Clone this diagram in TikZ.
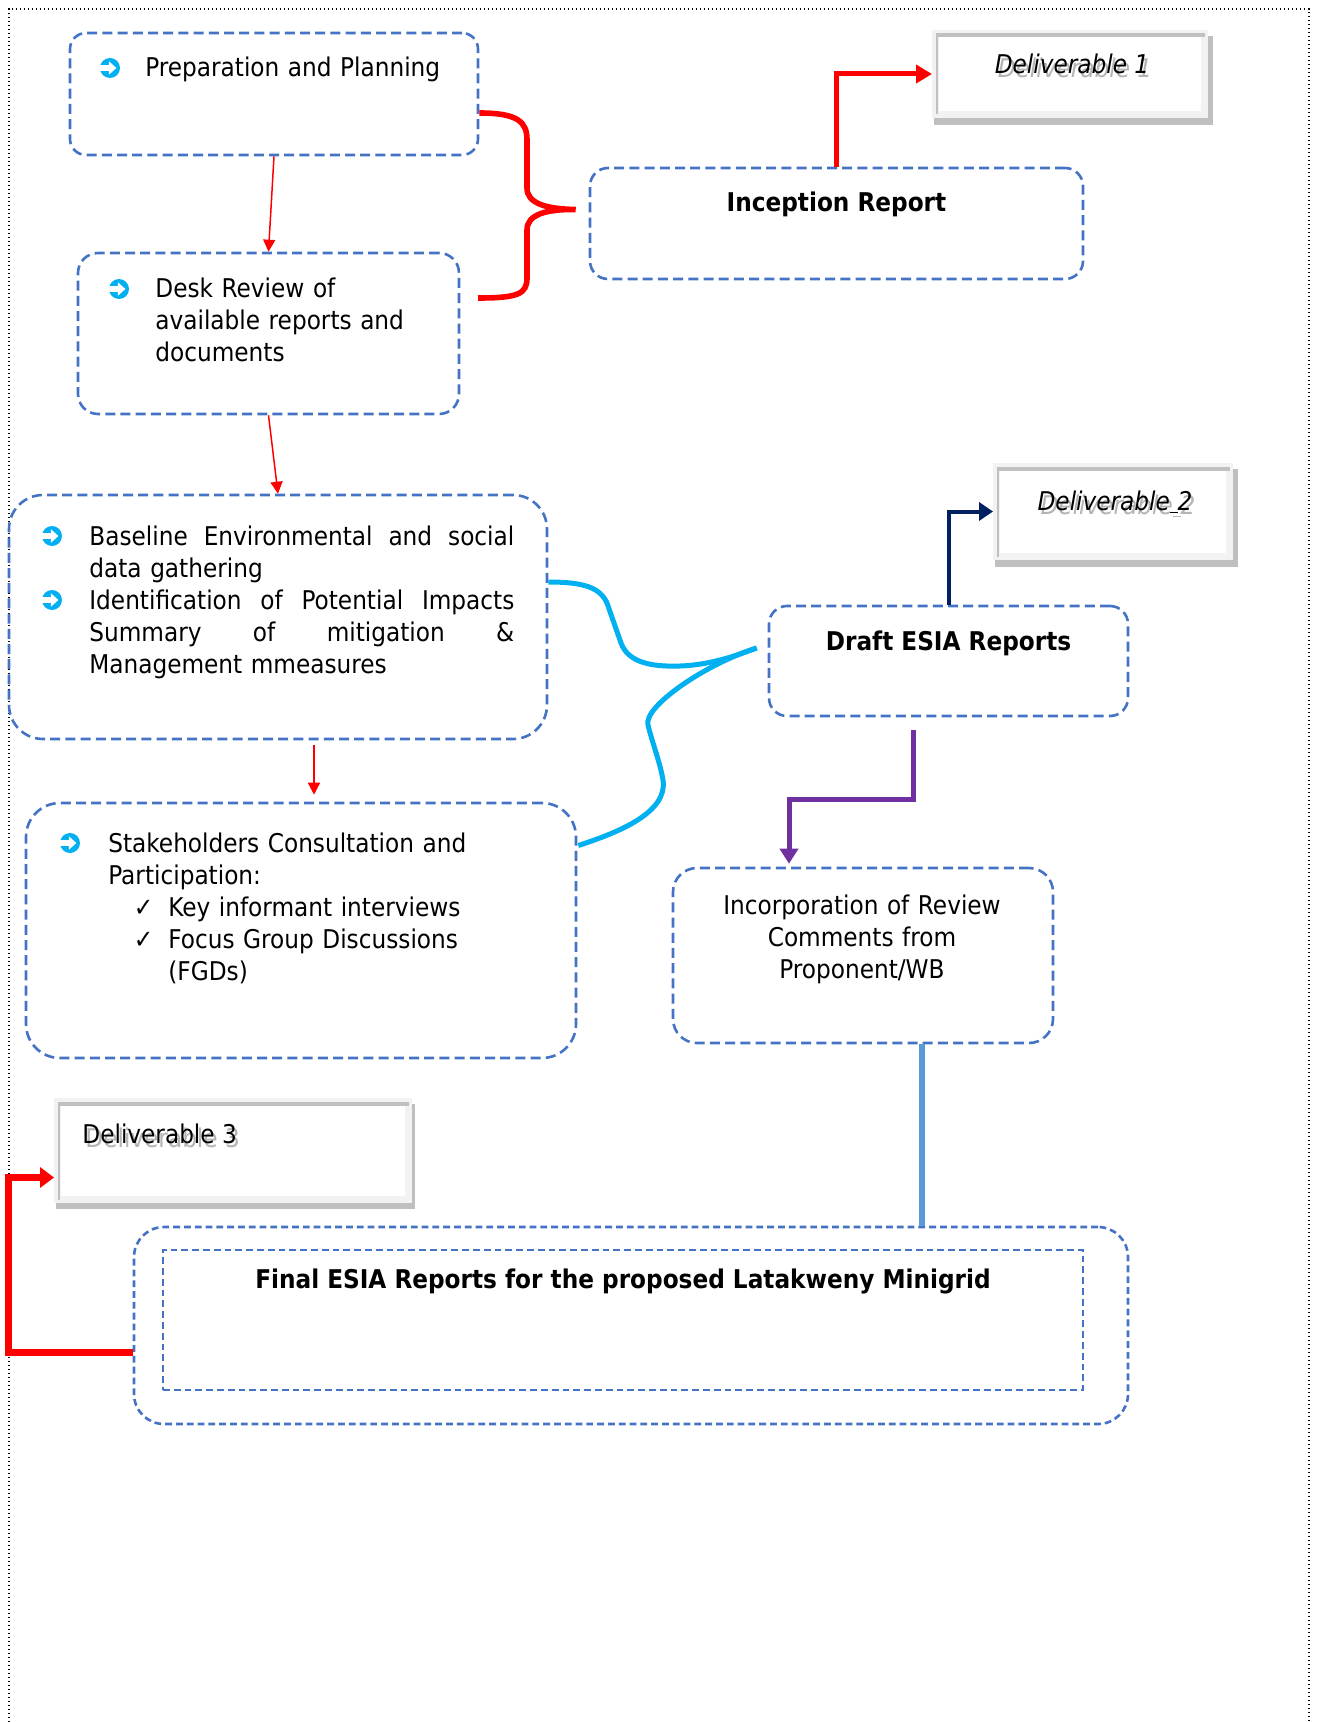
\documentclass[tikz,border=0pt]{standalone}
\usepackage{fontspec}
\setmainfont{DejaVu Sans Condensed}
\usetikzlibrary{arrows.meta,calc,fit}
\definecolor{boxblue}{HTML}{4472C4}
\definecolor{bulcyan}{HTML}{00B0F0}
\definecolor{navyc}{HTML}{002060}
\definecolor{purplec}{HTML}{7030A0}
\definecolor{lightblue}{HTML}{5B9BD5}
\definecolor{delivborder}{HTML}{F2F2F2}
\definecolor{delivshadow}{HTML}{BFBFBF}
\definecolor{delivinner}{HTML}{C0C0C0}
\definecolor{textshadow}{HTML}{B4B4B4}
\tikzset{
  frame/.style={draw=black, line width=0.7pt, dash pattern=on 0.7pt off 1.3pt},
  dashedbox/.style={draw=boxblue, line width=1.3pt, dash pattern=on 5pt off 2.6pt, rounded corners=#1, inner sep=0pt},
  dashedbox/.default=8pt,
  finedash/.style={dash pattern=on 3.4pt off 2pt},
  deliv/.style={draw=delivborder, fill=white, line width=3.5pt, inner sep=0pt},
  dtext/.style={inner sep=0pt, anchor=base},
  lbl/.style={inner sep=0pt, anchor=base west, align=left, text width=#1},
  thinred/.style={draw=red, line width=0.75pt, -{Triangle[length=6pt,width=6pt]}},
  redbrace/.style={draw=red, line width=2.8pt},
  redarrow/.style={draw=red, line width=2.5pt, -{Triangle[length=8pt,width=9pt]}},
  redthick/.style={draw=red, line width=3.5pt, -{Triangle[length=7pt,width=10pt]}},
  navyarrow/.style={draw=navyc, line width=2pt, -{Triangle[length=7pt,width=9pt]}},
  purplearrow/.style={draw=purplec, line width=2.5pt, -{Triangle[length=7.5pt,width=9pt]}},
  blueline/.style={draw=lightblue, line width=3pt},
  cyanline/.style={draw=bulcyan, line width=2.5pt},
  bullet/.pic={
    \fill[bulcyan] (0,0) circle (5pt);
    \fill[white] (-5.5pt,-1.5pt) rectangle (0.2pt,1.5pt);
    \fill[white] (-0.6pt,-3.4pt) -- (3.2pt,0pt) -- (-0.6pt,3.4pt) -- cycle;
  }
}
\begin{document}
\begin{tikzpicture}[x=0.5pt,y=-0.5pt,
  every node/.style={font=\fontsize{12.9}{16}\selectfont}]
\useasboundingbox (0,0) rectangle (1318,1722);
\fill[white] (0,0) rectangle (1318,1722);
\draw[frame] (9,1722) -- (9,9) -- (1309,9) -- (1309,1722);

% dashed boxes
\node[dashedbox=8pt, fit={(70,33) (478,155)}] (b1) {};
\node[dashedbox=10pt, fit={(78,253) (459,414)}] (b2) {};
\node[dashedbox=17pt, fit={(9,495) (547,739)}] (b3) {};
\node[dashedbox=17pt, fit={(26,803) (576,1058)}] (b4) {};
\node[dashedbox=9pt, fit={(590,168) (1083,279)}] (ir) {};
\node[dashedbox=9pt, fit={(769,606) (1128,716)}] (dr) {};
\node[dashedbox=12pt, fit={(673,868) (1053,1043)}] (rev) {};
\node[dashedbox=15pt, finedash, fit={(134,1227) (1128,1424)}] (fo) {};
\node[draw=boxblue, line width=1.3pt, finedash, inner sep=0pt, fit={(163,1250) (1083,1390)}] (fi) {};

% deliverable boxes
\fill[delivshadow] (934,36) rectangle (1213,125);
\node[deliv, fit={(935.5,33.5) (1204.5,114.5)}] (d1) {};
\draw[delivinner, line width=2pt] ($(d1.north west)+(3.5,5.5)$) -- ($(d1.north east)+(-3.5,5.5)$);
\draw[delivinner, line width=1pt] ($(d1.north west)+(4.5,3.5)$) -- ($(d1.south west)+(4.5,-3.5)$);

\fill[delivshadow] (995,469) rectangle (1238,567);
\node[deliv, fit={(996.5,466.5) (1229.5,556.5)}] (d2) {};
\draw[delivinner, line width=2pt] ($(d2.north west)+(3.5,5.5)$) -- ($(d2.north east)+(-3.5,5.5)$);
\draw[delivinner, line width=1pt] ($(d2.north west)+(4.5,3.5)$) -- ($(d2.south west)+(4.5,-3.5)$);

\fill[delivshadow] (56,1104) rectangle (415,1209);
\node[deliv, fit={(57.5,1101.5) (408.5,1199.5)}] (d3) {};
\draw[delivinner, line width=2pt] ($(d3.north west)+(3.5,5.5)$) -- ($(d3.north east)+(-3.5,5.5)$);
\draw[delivinner, line width=1pt] ($(d3.north west)+(4.5,3.5)$) -- ($(d3.south west)+(4.5,-3.5)$);

% deliverable texts (with shadow)
\node[dtext, text=textshadow] (d1s) at (1075,78) {\itshape Deliverable 1};
\node[dtext] (d1t) at (1072,74) {\itshape Deliverable 1};
\node[dtext, text=textshadow] (d2s) at (1118,514) {\itshape Deliverable\underline{\hspace{0.3em}}2};
\node[dtext] (d2t) at (1115,510) {\itshape Deliverable\underline{\hspace{0.3em}}2};
\node[dtext, anchor=base west, text=textshadow] (d3s) at (85,1147) {Deliverable 3};
\node[dtext, anchor=base west] (d3t) at (82,1143) {Deliverable 3};

% bullets
\pic at (110,68) {bullet};
\pic at (119,289) {bullet};
\pic at (52,536) {bullet};
\pic at (52,600) {bullet};
\pic at (70,843) {bullet};

% texts
\node[lbl=300pt] (t1) at (145,77) {Preparation and Planning};
\node[lbl=200pt] (t2) at (155,298) {Desk Review of\\available reports and\\documents};
\node[lbl=212.5pt] (t3) at (89,545) {\makebox[212.5pt]{Baseline\hfill Environmental\hfill and\hfill social}\\data gathering\\\makebox[212.5pt]{Identification\hfill of\hfill Potential\hfill Impacts}\\\makebox[212.5pt]{Summary\hfill of\hfill mitigation\hfill \&}\\Management mmeasures};
\node[lbl=260pt] (t4) at (108,852) {Stakeholders Consultation and\\Participation:\\\hspace*{30pt}\llap{✓\hspace{7.5pt}}Key informant interviews\\\hspace*{30pt}\llap{✓\hspace{7.5pt}}Focus Group Discussions\\\hspace*{30pt}(FGDs)};
\node[inner sep=0pt] (t5) at ($(ir.north)+(0,38)$) {\bfseries Inception Report};
\node[inner sep=0pt] (t6) at ($(dr.north)+(0,39)$) {\bfseries Draft ESIA Reports};
\node[inner sep=0pt, text width=220pt, align=center, anchor=base] (t7) at (862,914) {Incorporation of Review\\Comments from\\Proponent/WB};
\node[inner sep=0pt, anchor=base] (t8) at (623,1288) {\bfseries Final ESIA Reports for the proposed Latakweny Minigrid};

% connectors
\draw[thinred] (b1.south) -- (b2.north);
\draw[thinred] (b2.south) -- (b3.north);
\draw[thinred] ($(b3.south)+(36,5)$) -- ($(b4.north)+(13,-7)$);

\coordinate (bt) at ($(ir.west)+(-13,-14)$);
\draw[redbrace] ($(b1.east)+(0,19)$) .. controls (518,113) and (527,122) .. (527,140) -- (527,188) .. controls (527,203) and (545,209) .. (bt) .. controls (545,209) and (527,215) .. (527,230) -- (527,278) .. controls (527,294) and (518,298) .. (478,298);

\draw[redarrow] (ir.north) |- (d1.west);
\draw[navyarrow] (dr.north) |- (d2.west);

\coordinate (ct) at ($(dr.west)+(-11,-13)$);
\draw[cyanline] ($(b3.east)+(0,-35)$) .. controls (585,582) and (600,588) .. (607,603) -- (621,643) .. controls (628,662) and (650,667) .. (680,666) .. controls (710,665) and (735,656) .. (ct);
\draw[cyanline] (ct) .. controls (705,664) and (643,707) .. (648,725) .. controls (652,742) and (660,762) .. (663,780) .. controls (668,812) and (620,832) .. ($(b4.east)+(1,-85)$);

\draw[purplearrow] ($(dr.south)+(-35,13)$) -- ++(0,69) -| ($(rev.north)+(-74,-3)$);
\draw[blueline] ($(rev.south)+(59,0)$) coordinate (bl) -- (bl |- fo.north);
\draw[redthick] ($(fo.west)+(0,27)$) -- ++(-124,0) |- ($(d3.west)+(0,27)$);
\end{tikzpicture}
\end{document}
